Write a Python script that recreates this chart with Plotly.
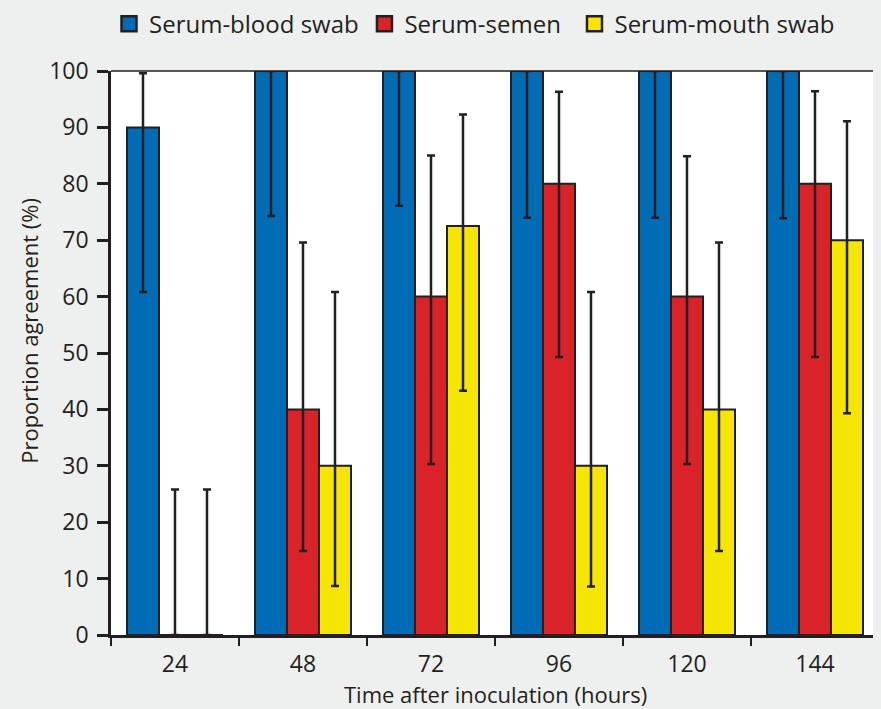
import plotly.graph_objects as go

hours = ["24", "48", "72", "96", "120", "144"]

blood = [90, 100, 100, 100, 100, 100]
blood_low = [60.8, 74.3, 76.1, 74.0, 74.0, 73.9]
blood_high = [99.6, 100, 100, 100, 100, 100]

semen = [0, 40, 60, 80, 60, 80]
semen_low = [0, 14.9, 30.3, 49.3, 30.3, 49.3]
semen_high = [25.8, 69.6, 85.0, 96.3, 84.9, 96.4]

mouth = [0, 30, 72.5, 30, 40, 70]
mouth_low = [0, 8.7, 43.3, 8.6, 14.9, 39.3]
mouth_high = [25.8, 60.8, 92.3, 60.8, 69.6, 91.1]

series_names = ["Serum-blood swab", "Serum-semen", "Serum-mouth swab"]
colors = ["#006cb5", "#da2229", "#f6e500"]

DARK = "#231f20"
BG = "#eef0ef"
FONT = "Open Sans"

fig = go.Figure()

data = [(blood, blood_low, blood_high), (semen, semen_low, semen_high), (mouth, mouth_low, mouth_high)]
for i, (vals, lo, hi) in enumerate(data):
    fig.add_trace(go.Bar(
        x=hours, y=vals, name=series_names[i], showlegend=False,
        marker=dict(color=colors[i], line=dict(color=DARK, width=2)),
        error_y=dict(type="data", symmetric=False,
                     array=[h - v for h, v in zip(hi, vals)],
                     arrayminus=[v - l for v, l in zip(vals, lo)],
                     color=DARK, thickness=2.5, width=4),
    ))

legend_ids = ["legend", "legend2", "legend3"]
legend_x = [-0.0026, 0.330, 0.6035]
for i in range(3):
    fig.add_trace(go.Scatter(
        x=[None], y=[None], mode="markers", name=series_names[i],
        marker=dict(symbol="square", size=15, color=colors[i], line=dict(color=DARK, width=2.5)),
        legend=legend_ids[i], showlegend=True,
    ))

leg_common = dict(orientation="h", yanchor="middle", y=1.083, xanchor="left",
                  bgcolor="rgba(0,0,0,0)", font=dict(family=FONT, size=24, color=DARK))
layout_legends = {}
for i, lid in enumerate(legend_ids):
    layout_legends[lid] = dict(leg_common, x=legend_x[i])

fig.update_layout(
    width=873, height=701,
    margin=dict(l=103, r=2, t=63, b=74, autoexpand=False),
    paper_bgcolor=BG,
    plot_bgcolor="#ffffff",
    barmode="group",
    bargap=0.25,
    bargroupgap=0,
    font=dict(family=FONT, size=23, color=DARK),
    xaxis=dict(
        type="category", tickson="boundaries", ticks="outside", ticklen=8, tickwidth=2,
        tickcolor=DARK, showline=True, linecolor=DARK, linewidth=2.5,
        showgrid=False, ticklabelstandoff=7, automargin=False,
        tickfont=dict(family=FONT, size=23, color=DARK),
    ),
    yaxis=dict(
        range=[0, 100], tickmode="linear", tick0=0, dtick=10, ticks="outside",
        ticklen=11, tickwidth=2.5, tickcolor=DARK, showline=True, linecolor=DARK,
        linewidth=2.5, showgrid=False, zeroline=False, ticklabelstandoff=4,
        automargin=False,
        tickfont=dict(family=FONT, size=23, color=DARK),
    ),
    shapes=[
        dict(type="line", xref="paper", yref="paper", x0=0, x1=1, y0=1, y1=1,
             line=dict(color=DARK, width=1.5)),
        dict(type="line", xref="paper", yref="paper", x0=1, x1=1, y0=0, y1=1,
             line=dict(color="#aaaaaa", width=1)),
    ],
    annotations=[
        dict(text="Proportion agreement (%)", xref="paper", yref="paper",
             x=-0.107, y=0.539, textangle=-90, showarrow=False,
             xanchor="center", yanchor="middle",
             font=dict(family=FONT, size=22, color=DARK)),
        dict(text="Time after inoculation (hours)", xref="paper", yref="paper",
             x=0.5, y=-0.105, showarrow=False, xanchor="center", yanchor="middle",
             font=dict(family=FONT, size=22, color=DARK)),
    ],
    **layout_legends,
)

fig.write_html(
    "out.html",
    post_script="document.body.style.background='%s';document.documentElement.style.background='%s';" % (BG, BG),
)
